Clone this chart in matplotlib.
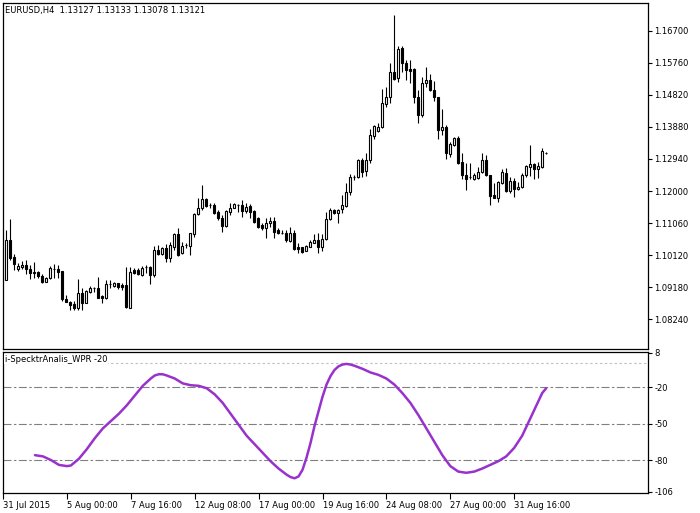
import matplotlib
matplotlib.use('Agg')
import matplotlib.pyplot as plt
import numpy as np

# ---- data (EURUSD H4) ----
opens = [1.0948, 1.0939, 1.1057, 1.1007, 1.0971, 1.0977, 1.0983, 1.0971, 1.0962, 1.0962,
         1.0951, 1.0933, 1.0945, 1.0971, 1.0971, 1.0965, 1.0884, 1.0875, 1.0869, 1.0857,
         1.0901, 1.0872, 1.0904, 1.0916, 1.0916, 1.0893, 1.0887, 1.0927, 1.0922, 1.0930,
         1.0925, 1.0925, 1.0857, 1.0968, 1.0968, 1.0954, 1.0977, 1.0977, 1.0954, 1.1027,
         1.1016, 1.1033, 1.1004, 1.1036, 1.1074, 1.1019, 1.1042, 1.1039, 1.1074, 1.1133,
         1.1150, 1.1177, 1.1159, 1.1159, 1.1139, 1.1121, 1.1098, 1.1139, 1.1150, 1.1159,
         1.1159, 1.1142, 1.1156, 1.1142, 1.1121, 1.1101, 1.1092, 1.1106, 1.1112, 1.1086,
         1.1077, 1.1077, 1.1054, 1.1077, 1.1036, 1.1036, 1.1024, 1.1036, 1.1048, 1.1057,
         1.1036, 1.1060, 1.1118, 1.1145, 1.1136, 1.1148, 1.1156, 1.1197, 1.1241, 1.1241,
         1.1291, 1.1259, 1.1291, 1.1361, 1.1376, 1.1388, 1.1455, 1.1476, 1.1549, 1.1531,
         1.1619, 1.1575, 1.1558, 1.1558, 1.1476, 1.1423, 1.1517, 1.1526, 1.1496, 1.1476,
         1.1379, 1.1388, 1.1309, 1.1335, 1.1356, 1.1285, 1.1247, 1.1241, 1.1235, 1.1238,
         1.1256, 1.1291, 1.1247, 1.1188, 1.1179, 1.1223, 1.1253, 1.1200, 1.1229, 1.1206,
         1.1212, 1.1247, 1.1270, 1.1279, 1.1265, 1.1270, 1.13127]
highs = [1.0951, 1.1086, 1.1118, 1.1016, 1.0989, 1.0995, 1.0998, 1.0983, 1.0992, 1.0965,
         1.0957, 1.0948, 1.0980, 1.0986, 1.0983, 1.0966, 1.0896, 1.0878, 1.0878, 1.0942,
         1.0916, 1.0910, 1.0922, 1.0919, 1.0948, 1.0896, 1.0939, 1.0939, 1.0933, 1.0931,
         1.0930, 1.0977, 1.0977, 1.0974, 1.0974, 1.0980, 1.0983, 1.0980, 1.1039, 1.1042,
         1.1036, 1.1045, 1.1051, 1.1077, 1.1092, 1.1051, 1.1048, 1.1077, 1.1136, 1.1179,
         1.1218, 1.1179, 1.1165, 1.1165, 1.1145, 1.1130, 1.1145, 1.1165, 1.1165, 1.1162,
         1.1174, 1.1165, 1.1162, 1.1145, 1.1124, 1.1106, 1.1121, 1.1124, 1.1124, 1.1092,
         1.1086, 1.1086, 1.1095, 1.1086, 1.1048, 1.1037, 1.1042, 1.1057, 1.1074, 1.1077,
         1.1074, 1.1139, 1.1150, 1.1148, 1.1148, 1.1188, 1.1223, 1.1250, 1.1247, 1.1294,
         1.1297, 1.1312, 1.1382, 1.1394, 1.1400, 1.1499, 1.1505, 1.1575, 1.1716, 1.1625,
         1.1625, 1.1584, 1.1584, 1.1561, 1.1496, 1.1534, 1.1564, 1.1543, 1.1523, 1.1477,
         1.1441, 1.1394, 1.1344, 1.1358, 1.1361, 1.1312, 1.1282, 1.1282, 1.1253, 1.1270,
         1.1312, 1.1306, 1.1248, 1.1223, 1.1229, 1.1265, 1.1267, 1.1241, 1.1238, 1.1226,
         1.1253, 1.1276, 1.1335, 1.1282, 1.1285, 1.1326, 1.13133]
lows = [1.0936, 1.0939, 1.0998, 1.0968, 1.0965, 1.0971, 1.0957, 1.0942, 1.0945, 1.0945,
        1.0930, 1.0932, 1.0942, 1.0945, 1.0945, 1.0878, 1.0874, 1.0852, 1.0852, 1.0852,
        1.0852, 1.0871, 1.0901, 1.0904, 1.0886, 1.0872, 1.0884, 1.0916, 1.0919, 1.0913,
        1.0910, 1.0856, 1.0856, 1.0957, 1.0954, 1.0951, 1.0959, 1.0927, 1.0948, 1.1013,
        1.1013, 1.0992, 1.0992, 1.1027, 1.1010, 1.1016, 1.1033, 1.1013, 1.1066, 1.1130,
        1.1145, 1.1153, 1.1150, 1.1133, 1.1115, 1.1080, 1.1095, 1.1130, 1.1149, 1.1139,
        1.1124, 1.1136, 1.1121, 1.1106, 1.1092, 1.1086, 1.1063, 1.1095, 1.1063, 1.1074,
        1.1074, 1.1051, 1.1051, 1.1027, 1.1019, 1.1019, 1.1023, 1.1035, 1.1047, 1.1019,
        1.1024, 1.1057, 1.1115, 1.1133, 1.1106, 1.1136, 1.1153, 1.1188, 1.1232, 1.1238,
        1.1241, 1.1244, 1.1282, 1.1353, 1.1373, 1.1385, 1.1446, 1.1458, 1.1526, 1.1520,
        1.1549, 1.1526, 1.1517, 1.1458, 1.1400, 1.1417, 1.1505, 1.1493, 1.1464, 1.1353,
        1.1364, 1.1294, 1.1300, 1.1332, 1.1279, 1.1235, 1.1203, 1.1235, 1.1232, 1.1235,
        1.1253, 1.1244, 1.1159, 1.1179, 1.1168, 1.1220, 1.1197, 1.1194, 1.1182, 1.1203,
        1.1209, 1.1241, 1.1244, 1.1235, 1.1238, 1.1267, 1.13078]
closes = [1.0939, 1.1057, 1.1004, 1.0986, 1.0980, 1.0983, 1.0971, 1.0959, 1.0961, 1.0951,
          1.0933, 1.0945, 1.0974, 1.0972, 1.0962, 1.0884, 1.0875, 1.0866, 1.0857, 1.0901,
          1.0872, 1.0907, 1.0916, 1.0915, 1.0887, 1.0887, 1.0927, 1.0928, 1.0930, 1.0919,
          1.0919, 1.0860, 1.0962, 1.0959, 1.0957, 1.0974, 1.0976, 1.0954, 1.1027, 1.1016,
          1.1033, 1.1004, 1.1042, 1.1074, 1.1013, 1.1039, 1.1041, 1.1077, 1.1133, 1.1150,
          1.1177, 1.1156, 1.1158, 1.1136, 1.1121, 1.1098, 1.1142, 1.1150, 1.1162, 1.1158,
          1.1142, 1.1153, 1.1139, 1.1109, 1.1095, 1.1092, 1.1106, 1.1112, 1.1080, 1.1077,
          1.1076, 1.1057, 1.1077, 1.1030, 1.1030, 1.1021, 1.1039, 1.1051, 1.1057, 1.1036,
          1.1060, 1.1118, 1.1145, 1.1136, 1.1145, 1.1159, 1.1197, 1.1241, 1.1240, 1.1291,
          1.1256, 1.1291, 1.1364, 1.1391, 1.1388, 1.1458, 1.1476, 1.1549, 1.1529, 1.1616,
          1.1575, 1.1555, 1.1552, 1.1476, 1.1423, 1.1517, 1.1526, 1.1496, 1.1476, 1.1379,
          1.1388, 1.1312, 1.1338, 1.1356, 1.1282, 1.1247, 1.1235, 1.1240, 1.1247, 1.1256,
          1.1291, 1.1247, 1.1185, 1.1180, 1.1226, 1.1256, 1.1200, 1.1229, 1.1206, 1.1212,
          1.1247, 1.1273, 1.1279, 1.1265, 1.1273, 1.1317, 1.13121]

price_ticks = [1.08240, 1.09180, 1.10120, 1.11060, 1.12000, 1.12940, 1.13880, 1.14820, 1.15760, 1.16700]

x_label_bars = [0, 16, 32, 48, 64, 80, 96, 112, 128]
x_labels = ['31 Jul 2015', '5 Aug 00:00', '7 Aug 16:00', '12 Aug 08:00', '17 Aug 00:00',
            '19 Aug 16:00', '24 Aug 08:00', '27 Aug 00:00', '31 Aug 16:00']

wpr_bars = [8, 10, 12, 14, 16, 17, 19, 21, 23, 25, 27, 29, 31, 33, 35, 37, 38, 39, 40, 41,
            43, 45, 47, 49, 51, 53, 55, 57, 59, 61, 63, 65, 67, 69, 71, 72, 73, 74, 75, 76,
            77, 78, 79, 80, 81, 82, 83, 84, 85, 86, 87, 88, 90, 92, 94, 96, 98, 100, 102, 104,
            106, 108, 110, 112, 114, 116, 118, 120, 122, 124, 126, 128, 130, 132, 134, 135, 136]
wpr_values = [-76, -77, -80, -84, -85, -84.5, -79, -71, -62, -54, -48, -42, -35, -27, -19, -13, -10.5, -9.5, -9.5, -10.5,
              -13, -17, -18.5, -19, -21, -26, -33, -42, -51, -60, -67, -74, -81, -87, -92, -94, -95, -93.5, -88, -78,
              -66, -52, -40, -28, -18, -11, -6, -3, -1.5, -1, -1.5, -2.5, -5, -8, -10, -13, -18, -25, -33, -43,
              -54, -65, -76, -85, -89.5, -90.5, -89.5, -87, -84, -81, -77, -70, -60, -46, -32, -25, -21]
wpr_levels = [-20, -50, -80]
wpr_ticks = [8, -20, -50, -80, -106]

# ---- figure ----
W, H = 700, 513
fig = plt.figure(figsize=(W / 100, H / 100), dpi=100)
fig.patch.set_facecolor('white')

def frac_box(x0, y0, x1, y1):
    return [x0 / W, 1 - y1 / H, (x1 - x0) / W, (y1 - y0) / H]

ax = fig.add_axes(frac_box(3, 3, 648, 349))
ax2 = fig.add_axes(frac_box(3, 352, 648, 493))

o = np.array(opens); h = np.array(highs); l = np.array(lows); c = np.array(closes)
idx = np.arange(len(o))
up = c >= o

ax.vlines(idx, l, h, color='black', lw=0.8, zorder=2)
ax.bar(idx, np.abs(c - o), bottom=np.minimum(o, c), width=0.58,
       color=np.where(up, 'white', 'black'), edgecolor='black', linewidth=0.8, zorder=3)

ax.set_xlim(0.25, 161.5)
ax.set_ylim(1.07369, 1.17512)
ax.set_xticks([])
ax.yaxis.tick_right()
ax.set_yticks(price_ticks)
ax.set_yticklabels(['%.5f' % v for v in price_ticks])
ax.tick_params(axis='y', direction='out', length=3, width=0.8, labelsize=6, pad=1.5, colors='black')
for s in ax.spines.values():
    s.set_linewidth(0.9)

# indicator panel
ax2.axhline(0, color='#c0c0c0', lw=0.8, dashes=(2.2, 2.2), zorder=1)
for lv in wpr_levels:
    ax2.axhline(lv, color='#808080', lw=0.8, dashes=(7.2, 2.2, 2.2, 2.2), zorder=1)
ax2.plot(wpr_bars, wpr_values, color='#9932CC', lw=1.8, solid_capstyle='round', zorder=3)
ax2.set_xlim(0.25, 161.5)
ax2.set_ylim(-107.1, 8.8)
ax2.yaxis.tick_right()
ax2.set_yticks(wpr_ticks)
ax2.set_yticklabels([str(t) for t in wpr_ticks])
ax2.tick_params(axis='y', direction='out', length=3, width=0.8, labelsize=6, pad=1.5)
ax2.set_xticks(x_label_bars)
ax2.set_xticklabels(x_labels, ha='left')
ax2.tick_params(axis='x', direction='out', length=4, width=0.8, labelsize=6, pad=1.5)
for s in ax2.spines.values():
    s.set_linewidth(0.9)

fig.text(5 / W, 1 - 10 / H, 'EURUSD,H4  1.13127 1.13133 1.13078 1.13121',
         fontsize=6, ha='left', va='center')
fig.text(5 / W, 1 - 359 / H, 'i-SpecktrAnalis_WPR -20', fontsize=6, ha='left', va='center',
         bbox=dict(facecolor='white', edgecolor='none', pad=0.5))

fig.savefig('out.png', dpi=100)
